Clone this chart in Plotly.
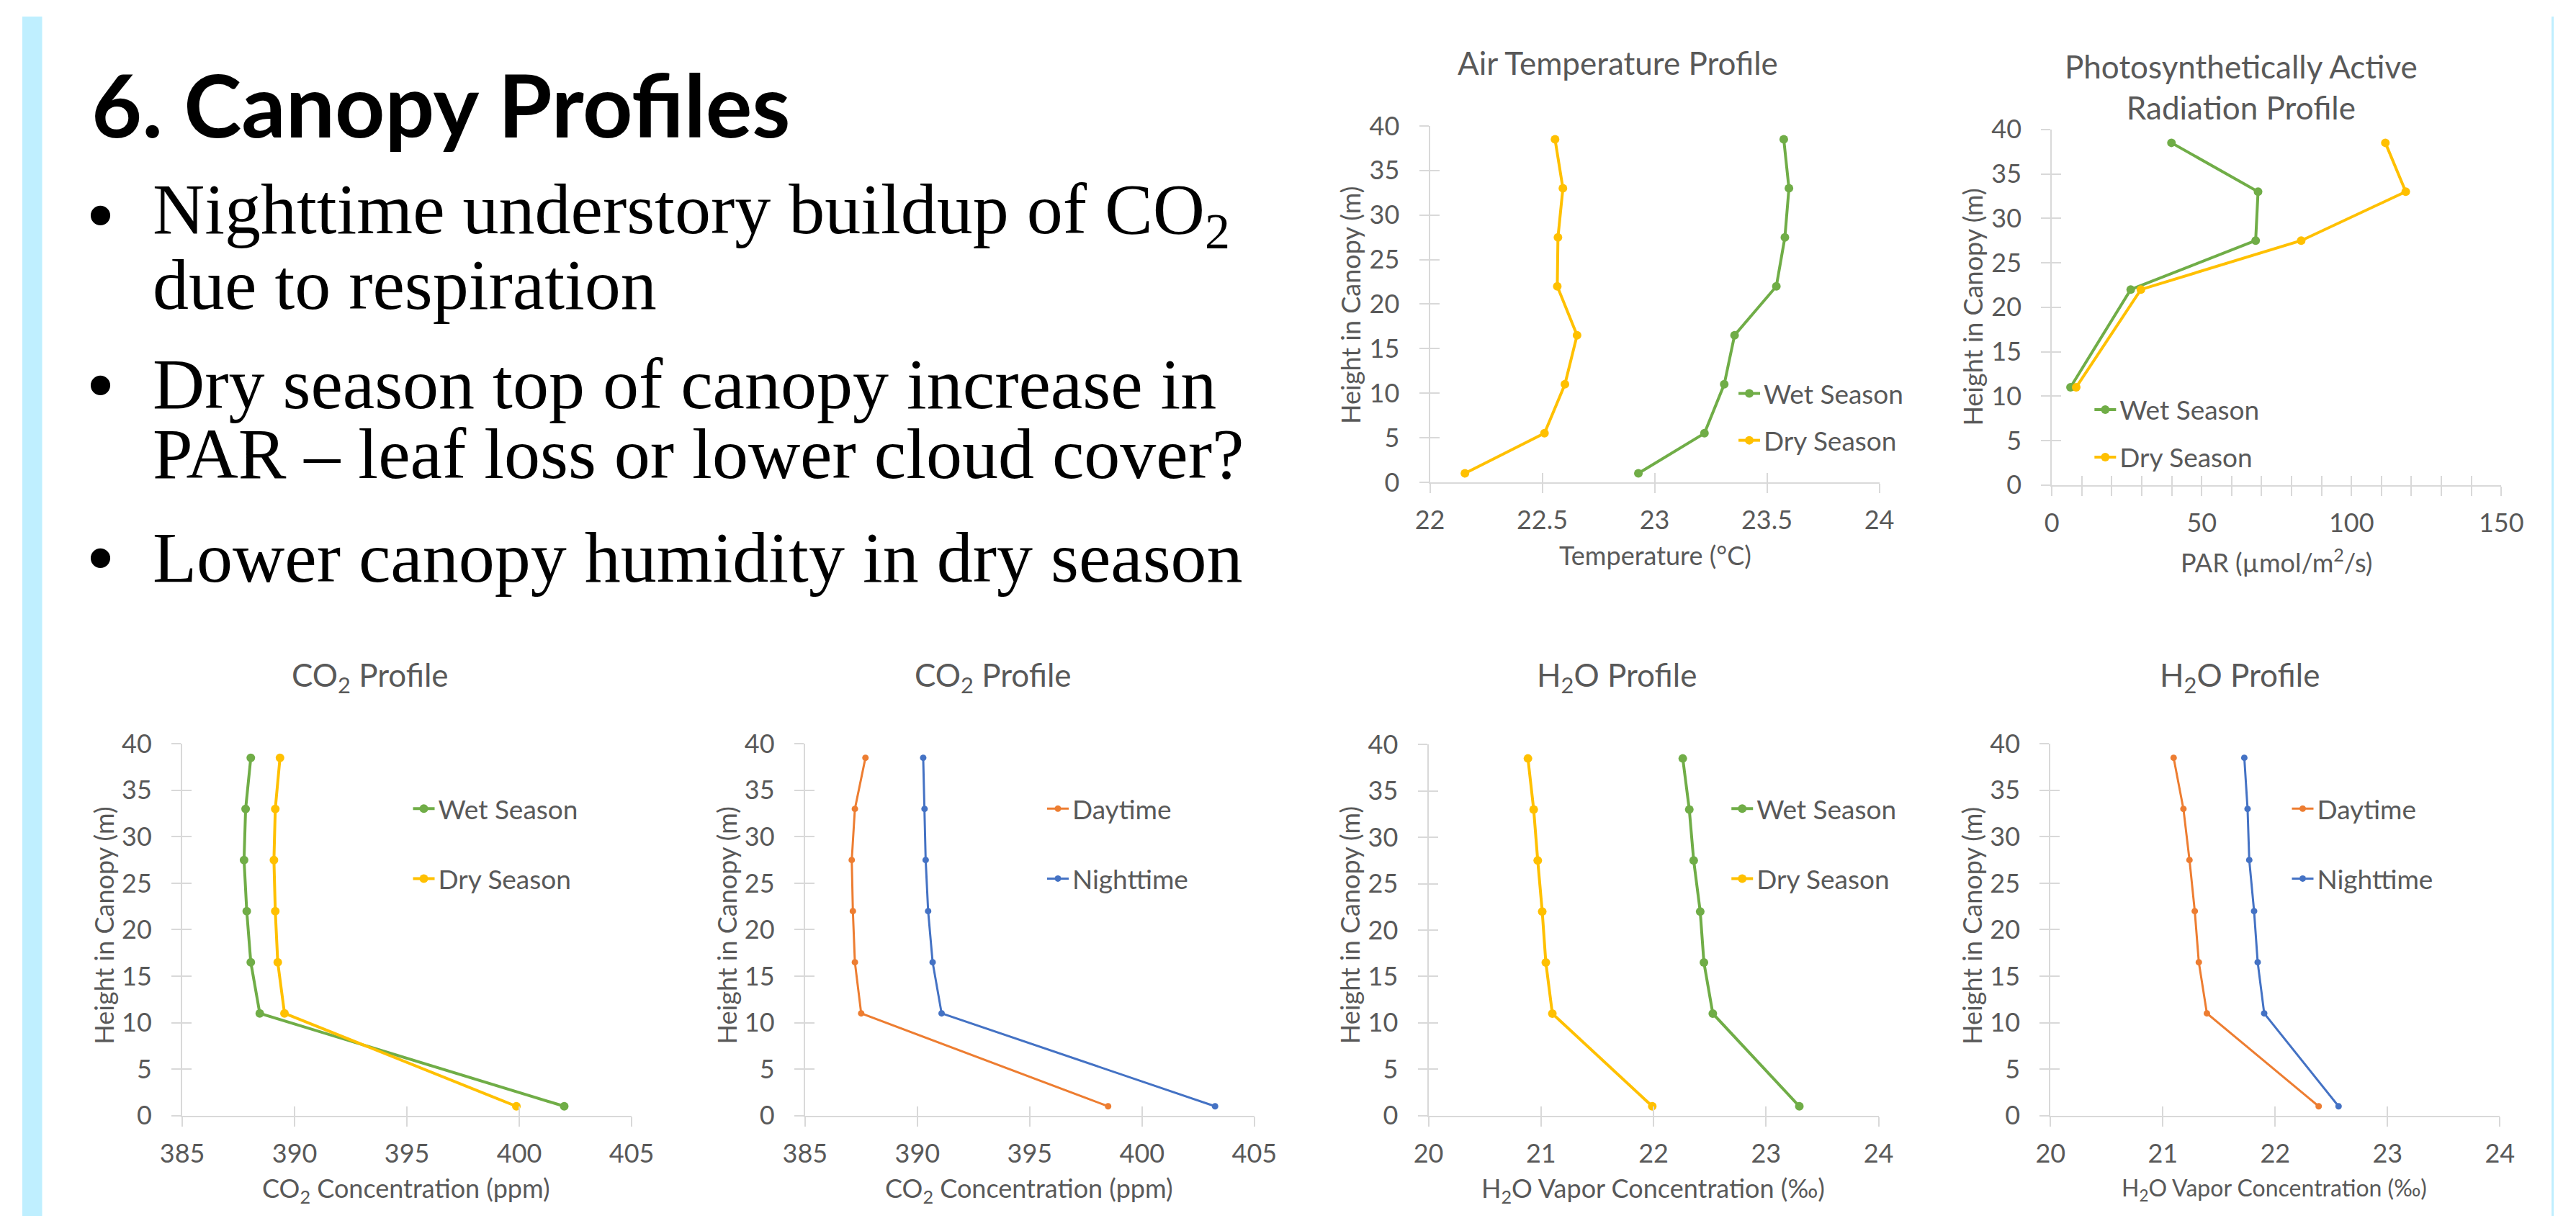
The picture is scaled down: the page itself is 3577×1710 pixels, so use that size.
import plotly.graph_objects as go

# ---------------- data ----------------
HEIGHT_TEMP = [38.5, 33, 27.5, 22, 16.5, 11, 5.5, 1]
TEMP_WET = [23.575, 23.598, 23.580, 23.542, 23.356, 23.310, 23.222, 22.928]
TEMP_DRY = [22.557, 22.592, 22.570, 22.567, 22.655, 22.601, 22.510, 22.156]

HEIGHT_PAR = [38.5, 33, 27.5, 22, 11]
PAR_WET = [39.9, 68.8, 68.0, 26.3, 6.2]
PAR_DRY = [111.3, 118.1, 83.2, 29.7, 8.1]

HEIGHT_GAS = [38.5, 33, 27.5, 22, 16.5, 11, 1]
CO2_WET = [388.05, 387.82, 387.75, 387.87, 388.05, 388.45, 402.0]
CO2_DRY = [389.35, 389.14, 389.08, 389.14, 389.25, 389.55, 399.87]
CO2_DAY = [387.69, 387.22, 387.08, 387.13, 387.22, 387.50, 398.49]
CO2_NIGHT = [390.26, 390.32, 390.37, 390.48, 390.68, 391.08, 403.25]
H2O_WET = [22.26, 22.318, 22.357, 22.415, 22.448, 22.527, 23.296]
H2O_DRY = [20.884, 20.935, 20.971, 21.011, 21.043, 21.101, 21.989]
H2O_DAY = [21.096, 21.183, 21.237, 21.284, 21.320, 21.392, 22.387]
H2O_NIGHT = [21.725, 21.754, 21.769, 21.812, 21.844, 21.902, 22.564]

Y_TICKS = [0, 5, 10, 15, 20, 25, 30, 35, 40]
TEMP_TICKS = [22, 22.5, 23, 23.5, 24]
PAR_TICKS = [0, 50, 100, 150]
CO2_TICKS = [385, 390, 395, 400, 405]
H2O_TICKS = [20, 21, 22, 23, 24]

SLIDE_TITLE = "6. Canopy Profiles"
BULLET_LINES = [
    (True, "Nighttime understory buildup of CO<sub>2</sub>"),
    (False, "due to respiration"),
    (True, "Dry season top of canopy increase in"),
    (False, "PAR \u2013 leaf loss or lower cloud cover?"),
    (True, "Lower canopy humidity in dry season"),
]

# ---------------- style ----------------
W, H = 3577, 1710
GREEN, GOLD, ORANGE, BLUE = "#70AD47", "#FFC000", "#ED7D31", "#4472C4"
TXT = "#595959"
AX = "#D9D9D9"
CF = "Lato, 'Open Sans', sans-serif"


def fx(v):
    return v / W


def fy(v):
    return 1 - v / H


panels = [
    dict(box=(1989, 2624, 156, 664), xr=[22, 24], xt=TEMP_TICKS, minor=None,
         series=[(TEMP_WET, HEIGHT_TEMP, "Wet Season", GREEN), (TEMP_DRY, HEIGHT_TEMP, "Dry Season", GOLD)],
         ms=12, lw=4,
         title="Air Temperature Profile", tpos=(2255, 66),
         xtitle="Temperature (\u00b0C)", xtpos=(2307, 768), xts=36,
         ytpos=(1877, 411), leg=(2460, 536, 65)),
    dict(box=(2868, 3503, 161, 668), xr=[0, 150], xt=PAR_TICKS, minor=10,
         series=[(PAR_WET, HEIGHT_PAR, "Wet Season", GREEN), (PAR_DRY, HEIGHT_PAR, "Dry Season", GOLD)],
         ms=12, lw=4,
         title="Photosynthetically Active<br>Radiation Profile", tpos=(3135, 100),
         xtitle="PAR (\u00b5mol/m<sup>2</sup>/s)", xtpos=(3185, 776), xts=36,
         ytpos=(2756, 414), leg=(2963, 559, 66)),
    dict(box=(226, 861, 1037, 1567), xr=[385, 405], xt=CO2_TICKS, minor=None,
         series=[(CO2_WET, HEIGHT_GAS, "Wet Season", GREEN), (CO2_DRY, HEIGHT_GAS, "Dry Season", GOLD)],
         ms=12, lw=4,
         title="CO<sub>2</sub> Profile", tpos=(492, 942),
         xtitle="CO<sub>2</sub> Concentration (ppm)", xtpos=(542, 1673), xts=36,
         ytpos=(115, 1296), leg=(587, 1128, 97)),
    dict(box=(1106, 1741, 1037, 1567), xr=[385, 405], xt=CO2_TICKS, minor=None,
         series=[(CO2_DAY, HEIGHT_GAS, "Daytime", ORANGE), (CO2_NIGHT, HEIGHT_GAS, "Nighttime", BLUE)],
         ms=9, lw=3,
         title="CO<sub>2</sub> Profile", tpos=(1372, 942),
         xtitle="CO<sub>2</sub> Concentration (ppm)", xtpos=(1423, 1673), xts=36,
         ytpos=(995, 1296), leg=(1483, 1128, 97)),
    dict(box=(1987, 2623, 1038, 1567), xr=[20, 24], xt=H2O_TICKS, minor=None,
         series=[(H2O_WET, HEIGHT_GAS, "Wet Season", GREEN), (H2O_DRY, HEIGHT_GAS, "Dry Season", GOLD)],
         ms=12, lw=4,
         title="H<sub>2</sub>O Profile", tpos=(2253, 942),
         xtitle="H<sub>2</sub>O Vapor Concentration (\u2030)", xtpos=(2304, 1673), xts=36,
         ytpos=(1875, 1296), leg=(2450, 1128, 97)),
    dict(box=(2866, 3501, 1037, 1567), xr=[20, 24], xt=H2O_TICKS, minor=None,
         series=[(H2O_DAY, HEIGHT_GAS, "Daytime", ORANGE), (H2O_NIGHT, HEIGHT_GAS, "Nighttime", BLUE)],
         ms=9, lw=3,
         title="H<sub>2</sub>O Profile", tpos=(3133, 942),
         xtitle="H<sub>2</sub>O Vapor Concentration (\u2030)", xtpos=(3182, 1672), xts=32,
         ytpos=(2754, 1296), leg=(3242, 1128, 97)),
]

fig = go.Figure()
layout = dict(
    width=W, height=H, margin=dict(l=0, r=0, t=0, b=0),
    paper_bgcolor="white", plot_bgcolor="rgba(0,0,0,0)",
    showlegend=True, hovermode=False,
)
annotations = []
N = len(panels)
LEG_ITEM_H = 51

for i, p in enumerate(panels, start=1):
    x0, x1, y0, y1 = p["box"]
    xid = "x" if i == 1 else f"x{i}"
    yid = "y" if i == 1 else f"y{i}"
    oi = i + N
    legname = "legend" if i == 1 else f"legend{i}"
    common = dict(showgrid=False, zeroline=False, fixedrange=True,
                  tickcolor=AX, tickwidth=2, ticklen=13)
    minor_out = dict(dtick=p["minor"], ticks="outside", ticklen=13, tickcolor=AX, tickwidth=2, showgrid=False) if p["minor"] else None
    minor_in = dict(dtick=p["minor"], ticks="inside", ticklen=13, tickcolor=AX, tickwidth=2, showgrid=False) if p["minor"] else None
    xa = dict(domain=[fx(x0), fx(x1)], range=p["xr"], anchor=yid, showline=True, linecolor=AX, linewidth=2,
              ticks="outside", tickvals=p["xt"], tickfont=dict(family=CF, size=36, color=TXT),
              ticklabelstandoff=7, **common)
    if minor_out:
        xa["minor"] = minor_out
    ya = dict(domain=[fy(y1), fy(y0)], range=[0, 40], anchor=xid, showline=True, linecolor=AX, linewidth=2,
              ticks="outside", tickvals=Y_TICKS, tickfont=dict(family=CF, size=36, color=TXT),
              ticklabelstandoff=20, **common)
    xo = dict(overlaying=xid, anchor=f"y{oi}", range=p["xr"], ticks="inside", tickvals=p["xt"],
              showticklabels=False, showline=False, **common)
    if minor_in:
        xo["minor"] = minor_in
    yo = dict(overlaying=yid, anchor=f"x{oi}", range=[0, 40], ticks="inside", tickvals=Y_TICKS,
              showticklabels=False, showline=False, **common)
    layout["xaxis" if i == 1 else f"xaxis{i}"] = xa
    layout["yaxis" if i == 1 else f"yaxis{i}"] = ya
    layout[f"xaxis{oi}"] = xo
    layout[f"yaxis{oi}"] = yo

    fig.add_trace(go.Scatter(x=[], y=[], xaxis=f"x{oi}", yaxis=f"y{oi}", showlegend=False,
                             mode="markers", hoverinfo="skip"))
    for k, (xs, ys, name, color) in enumerate(p["series"]):
        fig.add_trace(go.Scatter(
            x=xs, y=ys, name=name, mode="lines+markers", xaxis=xid, yaxis=yid,
            line=dict(color=color, width=p["lw"]),
            marker=dict(color=color, size=p["ms"], symbol="circle"),
            legend=legname, legendgroup=f"g{i}_{k}",
        ))

    tx, c1, sp = p["leg"]
    layout[legname] = dict(
        x=fx(tx - 40), y=fy(c1 - 30), xanchor="left", yanchor="top",
        bgcolor="rgba(0,0,0,0)", borderwidth=0,
        font=dict(family=CF, size=37, color=TXT),
        traceorder="grouped", tracegroupgap=max(sp - LEG_ITEM_H, 0),
        itemclick=False, itemdoubleclick=False,
    )

    annotations.append(dict(text=p["title"], x=fx(p["tpos"][0]), y=fy(p["tpos"][1]), xref="paper", yref="paper",
                            xanchor="center", yanchor="middle", showarrow=False,
                            font=dict(family=CF, size=44, color=TXT)))
    annotations.append(dict(text=p["xtitle"], x=fx(p["xtpos"][0]), y=fy(p["xtpos"][1]), xref="paper", yref="paper",
                            xanchor="center", yanchor="middle", showarrow=False,
                            font=dict(family=CF, size=p["xts"], color=TXT)))
    annotations.append(dict(text="Height in Canopy (m)", x=fx(p["ytpos"][0]), y=fy(p["ytpos"][1]),
                            xref="paper", yref="paper", xanchor="center", yanchor="middle",
                            textangle=-90, showarrow=False,
                            font=dict(family=CF, size=36, color=TXT)))

# slide title and bullets
TITLE_SIZE = 121
annotations.append(dict(text="<b>" + SLIDE_TITLE + "</b>", x=fx(96), y=fy(167 - 0.35 * TITLE_SIZE),
                        xref="paper", yref="paper", xanchor="left", yanchor="middle", showarrow=False,
                        font=dict(family="Lato, 'Open Sans', sans-serif", size=TITLE_SIZE, color="#000000")))
BODY = 100
BASELINES = [317, 417, 559, 659, 806]
for (is_bullet, line), base in zip(BULLET_LINES, BASELINES):
    yc = fy(base - 0.35 * BODY)
    annotations.append(dict(text=line, x=fx(182), y=yc, xref="paper", yref="paper",
                            xanchor="left", yanchor="middle", showarrow=False,
                            font=dict(family="'Liberation Serif', 'DejaVu Serif', serif", size=BODY, color="#000000")))
    if is_bullet:
        annotations.append(dict(text="\u2022", x=fx(110), y=yc, xref="paper", yref="paper",
                                xanchor="center", yanchor="middle", showarrow=False,
                                font=dict(family="'Liberation Sans', Arial, sans-serif", size=BODY, color="#000000")))

layout["annotations"] = annotations
layout["shapes"] = [
    dict(type="rect", xref="paper", yref="paper", x0=0, x1=fx(28), y0=0, y1=1,
         fillcolor="#BFEFFF", line=dict(width=0), layer="below"),
    dict(type="rect", xref="paper", yref="paper", x0=fx(3574), x1=1, y0=0, y1=1,
         fillcolor="#BFEFFF", line=dict(width=0), layer="below"),
]
fig.update_layout(**layout)
fig.write_html("out.html", config={"displayModeBar": False})
